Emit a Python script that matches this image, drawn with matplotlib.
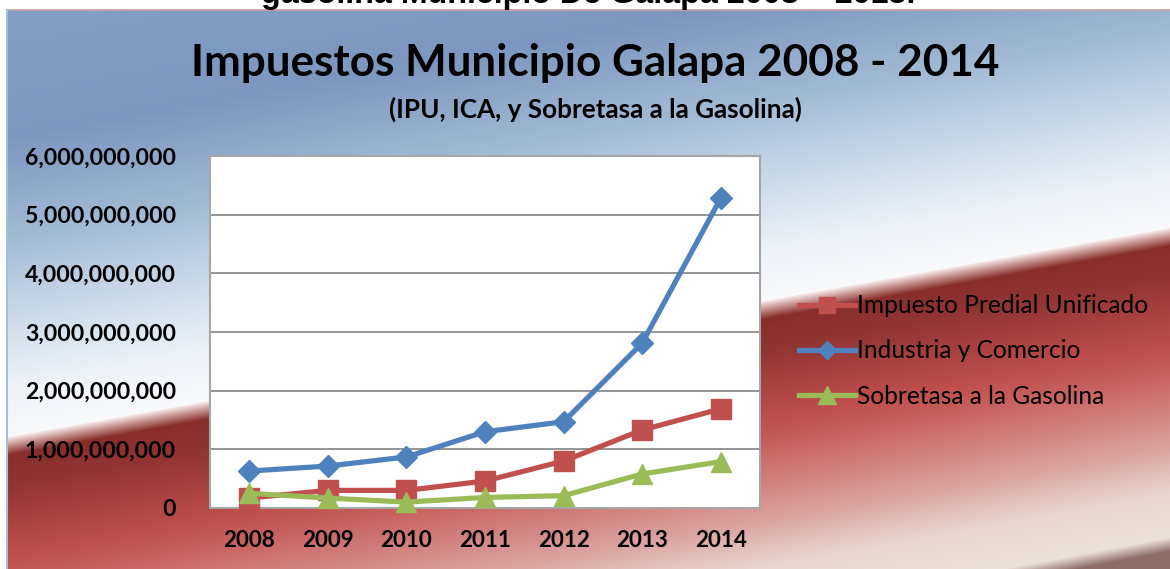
import numpy as np
import matplotlib
matplotlib.use("Agg")
import matplotlib.pyplot as plt
from matplotlib.ticker import FuncFormatter
from matplotlib.lines import Line2D

# ---------------- data ----------------
years = ["2008", "2009", "2010", "2011", "2012", "2013", "2014"]
ipu = [0.17e9, 0.30e9, 0.30e9, 0.46e9, 0.80e9, 1.33e9, 1.69e9]   # Impuesto Predial Unificado
ica = [0.63e9, 0.715e9, 0.87e9, 1.30e9, 1.47e9, 2.81e9, 5.28e9]  # Industria y Comercio
gas = [0.25e9, 0.17e9, 0.10e9, 0.18e9, 0.21e9, 0.58e9, 0.79e9]   # Sobretasa a la Gasolina
series_names = ["Impuesto Predial Unificado", "Industria y Comercio", "Sobretasa a la Gasolina"]
y_ticks = [0, 1e9, 2e9, 3e9, 4e9, 5e9, 6e9]

title = "Impuestos Municipio Galapa 2008 - 2014"
subtitle = "(IPU, ICA, y Sobretasa a la Gasolina)"
top_text = "gasolina Municipio De Galapa 2008 \u2013 2015."

W, H = 1170, 569
RED, BLUE, GREEN = "#C0504D", "#4F81BD", "#9BBB59"
FAM = ["Lato", "DejaVu Sans"]

fig = plt.figure(figsize=(W / 100, H / 100), dpi=100)
fig.patch.set_facecolor("white")
renderer = fig.canvas.get_renderer()


def fit_size(s, target_px, weight="bold", family=FAM, start=20.0):
    t = fig.text(0, 0, s, fontsize=start, fontweight=weight, family=family)
    w = t.get_window_extent(renderer).width
    t.remove()
    return start * target_px / w


# ---------------- background gradient ----------------
yy, xx = np.mgrid[10:H, 7:W].astype(float)
yt = 438 - 0.18 * xx
s = yy - yt  # >0 below the diagonal

above = [(0, (0.98, 0.98, 0.99)), (50, (0.93, 0.95, 0.97)), (110, (0.82, 0.87, 0.92)),
         (200, (0.63, 0.73, 0.83)), (300, (0.49, 0.59, 0.75)), (460, (0.52, 0.64, 0.78))]
below = [(0, (0.97, 0.93, 0.93)), (8, (0.78, 0.58, 0.57)), (18, (0.53, 0.18, 0.17)),
         (50, (0.57, 0.21, 0.20)), (120, (0.75, 0.31, 0.30)), (145, (0.78, 0.38, 0.37)),
         (220, (0.86, 0.64, 0.63)), (265, (0.91, 0.84, 0.82)), (320, (0.93, 0.89, 0.87))]
img = np.zeros(s.shape + (3,))
for c in range(3):
    da = np.interp(-s, [p[0] for p in above], [p[1][c] for p in above])
    db = np.interp(s, [p[0] for p in below], [p[1][c] for p in below])
    img[..., c] = np.where(s < 0, da, db)

# darker wave in the bottom-right corner
y2 = 759 - 0.19 * xx
a = np.clip((yy - y2) / 14.0, 0, 1)[..., None]
img = img * (1 - a) + np.array([0.55, 0.43, 0.41]) * a

bg = fig.add_axes([0, 0, 1, 1])
bg.imshow(img, extent=[7, W, H, 10], aspect="auto", interpolation="bilinear", zorder=0)
bg.set_xlim(0, W)
bg.set_ylim(H, 0)
bg.axis("off")
bg.plot([7, W], [10, 10], color="#c9a0a0", lw=1.2)
bg.plot([7, 7], [10, H], color="#a9bfd6", lw=1.5)

# caption text at very top (cut off by the page edge as in the source)
fs = fit_size(top_text, 653, family=["Liberation Sans"])
bg.text(588, 3, top_text, fontsize=fs, fontweight="bold", family=["Liberation Sans"],
        ha="center", va="baseline", color="black", clip_on=False)

# title & subtitle
fs = fit_size(title, 810)
bg.text(595, 76, title, fontsize=fs, fontweight="bold", family=FAM, ha="center", va="baseline")
fs = fit_size(subtitle, 414)
bg.text(595, 118, subtitle, fontsize=fs, fontweight="bold", family=FAM, ha="center", va="baseline")

# ---------------- plot area ----------------
L, R, T, B = 210, 760, 156, 508
ax = fig.add_axes([L / W, 1 - B / H, (R - L) / W, (B - T) / H])
ax.set_facecolor("white")
x = np.arange(len(years))

ax.plot(x, ipu, color=RED, lw=3.75, marker="s", ms=14, mec=RED, clip_on=False, zorder=3)
ax.plot(x, ica, color=BLUE, lw=3.75, marker="D", ms=11, mec=BLUE, clip_on=False, zorder=4)
ax.plot(x, gas, color=GREEN, lw=3.75, marker="^", ms=15, mec=GREEN, clip_on=False, zorder=5)

ax.set_xlim(-0.5, len(years) - 0.5)
ax.set_ylim(0, 6e9)
ax.set_yticks(y_ticks)
ax.yaxis.set_major_formatter(FuncFormatter(lambda v, p: f"{v:,.0f}"))
ax.set_xticks(x)
ax.set_xticklabels(years)
ax.yaxis.grid(True, color="#8c8c8c", lw=1.3)
ax.set_axisbelow(True)
for sp in ax.spines.values():
    sp.set_color("#a6a6a6")
    sp.set_linewidth(1.5)

yfs = fit_size("6,000,000,000", 152)
xfs = fit_size("2008", 52)
ax.tick_params(axis="y", length=0, pad=24.5, labelsize=yfs)
ax.tick_params(axis="x", length=0, pad=16, labelsize=xfs)
for lab in ax.get_yticklabels() + ax.get_xticklabels():
    lab.set_fontweight("bold")
    lab.set_family(FAM)

# ---------------- legend ----------------
lfs = fit_size(series_names[0], 292, weight="normal")
handles = [
    Line2D([], [], color=RED, lw=3.75, marker="s", ms=12, mec=RED),
    Line2D([], [], color=BLUE, lw=3.75, marker="D", ms=9, mec=BLUE),
    Line2D([], [], color=GREEN, lw=3.75, marker="^", ms=13, mec=GREEN),
]
leg = fig.legend(handles, series_names, loc="center left",
                 bbox_to_anchor=(799 / W, 1 - 351 / H), frameon=False,
                 prop={"family": FAM, "size": lfs}, handlelength=56 / (lfs * 1.389),
                 handletextpad=0.1, labelspacing=0.9, borderpad=0, borderaxespad=0)

fig.savefig("out.png", dpi=100)
